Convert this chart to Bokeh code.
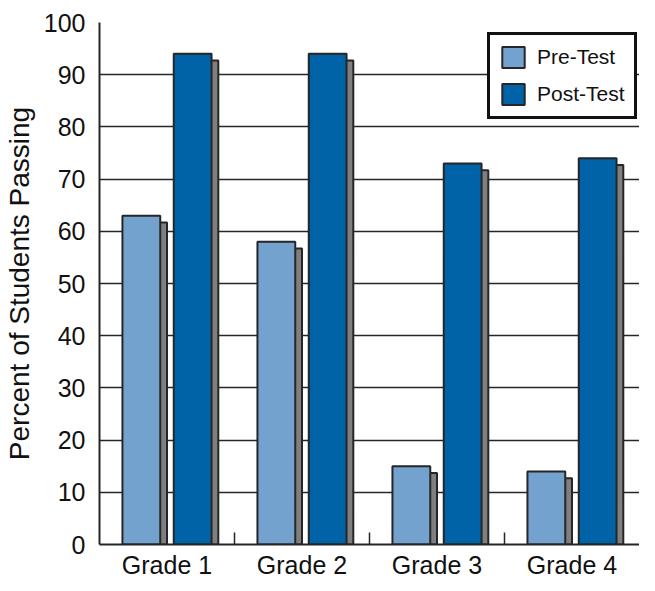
from bokeh.plotting import figure
from bokeh.models import ColumnDataSource, Range1d, FixedTicker
from bokeh.embed import file_html
from bokeh.resources import INLINE

# ---- data ----
categories = ["Grade 1", "Grade 2", "Grade 3", "Grade 4"]
pre_test = [63, 58, 15, 14]
post_test = [94, 94, 73, 74]
y_ticks = [0, 10, 20, 30, 40, 50, 60, 70, 80, 90, 100]

# ---- style ----
FONT = "Liberation Sans"
PRE_COLOR = "#73a2cf"
POST_COLOR = "#0062a7"
SHADOW = "#7f7f7f"
EDGE = "#262626"
BAR_W = 0.28
PRE_OFF = 0.31
POST_OFF = 0.69
SH_DX = 0.05
SH_DY = 1.3

W, H = 639, 581
BORDER_L, BORDER_T, BORDER_B = 88, 22, 37
LEGEND_H = 83

idx = list(range(len(categories)))
src = ColumnDataSource(dict(
    pre_x=[i + PRE_OFF for i in idx],
    post_x=[i + POST_OFF for i in idx],
    pre_sx=[i + PRE_OFF + SH_DX for i in idx],
    post_sx=[i + POST_OFF + SH_DX for i in idx],
    pre=pre_test,
    post=post_test,
    pre_s=[v - SH_DY for v in pre_test],
    post_s=[v - SH_DY for v in post_test],
))

p = figure(width=W, height=H, output_backend="svg", toolbar_location=None,
           x_range=Range1d(0, len(categories)), y_range=Range1d(0, 100),
           min_border_left=BORDER_L, min_border_right=0,
           min_border_top=BORDER_T, min_border_bottom=BORDER_B)
p.outline_line_color = None

# shadows
p.vbar(x="pre_sx", top="pre_s", width=BAR_W, source=src, fill_color=SHADOW,
       line_color=EDGE, line_width=2)
p.vbar(x="post_sx", top="post_s", width=BAR_W, source=src, fill_color=SHADOW,
       line_color=EDGE, line_width=2)
# bars
p.vbar(x="pre_x", top="pre", width=BAR_W, source=src, fill_color=PRE_COLOR,
       line_color=EDGE, line_width=2, legend_label="Pre-Test")
p.vbar(x="post_x", top="post", width=BAR_W, source=src, fill_color=POST_COLOR,
       line_color=EDGE, line_width=2, legend_label="Post-Test")

# x axis: labels at category centers, separator ticks between
xa = p.xaxis[0]
xa.ticker = FixedTicker(ticks=[i + 0.5 for i in idx], minor_ticks=[i for i in idx[1:]])
xa.major_label_overrides = {i + 0.5: c for i, c in zip(idx, categories)}
xa.major_tick_in = 0
xa.major_tick_out = 0
xa.minor_tick_in = 12
xa.minor_tick_out = 0
xa.minor_tick_line_color = EDGE
xa.minor_tick_line_width = 1.5
xa.axis_line_color = EDGE
xa.axis_line_width = 2
xa.major_label_text_font = FONT
xa.major_label_text_font_size = "25px"
xa.major_label_text_color = "#111111"
xa.major_label_standoff = 6

ya = p.yaxis[0]
ya.ticker = FixedTicker(ticks=y_ticks)
ya.major_tick_in = 0
ya.major_tick_out = 0
ya.minor_tick_in = 0
ya.minor_tick_out = 0
ya.axis_line_color = EDGE
ya.axis_line_width = 2
ya.major_label_text_font = FONT
ya.major_label_text_font_size = "25px"
ya.major_label_text_color = "#111111"
ya.major_label_standoff = 14
ya.axis_label = "Percent of Students Passing"
ya.axis_label_text_font = FONT
ya.axis_label_text_font_size = "28px"
ya.axis_label_text_font_style = "normal"
ya.axis_label_text_color = "#111111"
ya.axis_label_standoff = 6

p.xgrid.grid_line_color = None
p.ygrid.ticker = FixedTicker(ticks=y_ticks)
p.ygrid.grid_line_color = EDGE
p.ygrid.grid_line_width = 1.5

frame_h = H - BORDER_T - BORDER_B
lg = p.legend[0]
lg.location = (388, frame_h - 14 - LEGEND_H)
lg.padding = 9
lg.spacing = 11
lg.glyph_width = 28
lg.glyph_height = 26
lg.label_standoff = 10
lg.label_text_font = FONT
lg.label_text_font_size = "21px"
lg.label_text_color = "#111111"
lg.border_line_color = "#111111"
lg.border_line_alpha = 1.0
lg.border_line_width = 3
lg.background_fill_color = "white"
lg.background_fill_alpha = 1.0

open("out.html", "w").write(file_html(p, INLINE))
